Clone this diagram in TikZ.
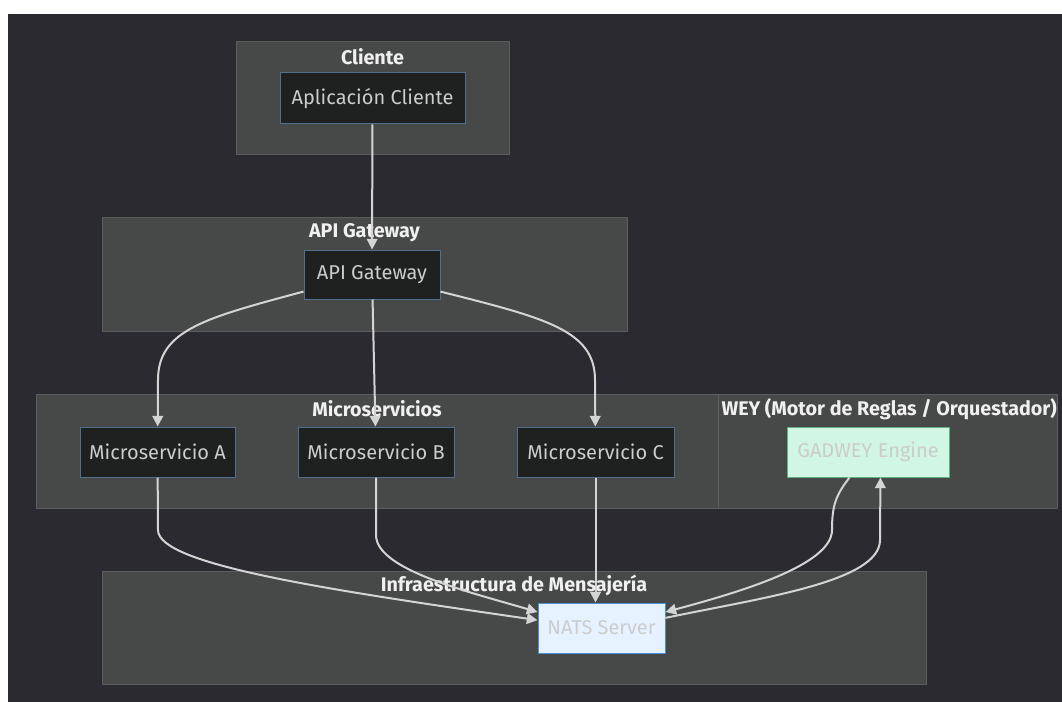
\documentclass[tikz,border=0pt]{standalone}
\usepackage{fontspec}
\setmainfont{Fira Sans}
\usetikzlibrary{arrows.meta}

\definecolor{bgdark}{RGB}{43,42,48}
\definecolor{clfill}{RGB}{71,73,72}
\definecolor{clline}{RGB}{92,94,93}
\definecolor{ndfill}{RGB}{31,32,32}
\definecolor{ndline}{RGB}{82,112,140}
\definecolor{ndtext}{RGB}{204,204,204}
\definecolor{edgegray}{RGB}{212,212,212}
\definecolor{natsfill}{RGB}{230,242,255}
\definecolor{natsline}{RGB}{74,144,217}
\definecolor{engfill}{RGB}{210,246,228}
\definecolor{engline}{RGB}{96,176,128}

\tikzset{
  cluster/.style={fill=clfill, draw=clline, line width=0.75pt},
  ctitle/.style={text=white!94!black, font=\bfseries\fontsize{14.8}{16}\selectfont, inner sep=0pt},
  svc/.style={fill=ndfill, draw=ndline, line width=0.75pt, text=ndtext,
    font=\fontsize{15}{17}\selectfont, minimum height=37.5pt, inner sep=0pt},
  wd/.style={minimum width=#1*0.75pt},
  flow/.style={draw=edgegray, line width=1.5pt, -{Triangle[length=8pt,width=8pt]}},
}

\begin{document}
\begin{tikzpicture}[x=0.75pt,y=-0.75pt,join=round] % Architecture overview
       \fill[white](0,0) rectangle (1062,702);
       \fill[bgdark](8,14) rectangle (1062,702);
       \useasboundingbox (0,0) rectangle (1062,702);
       % groups
       \filldraw[cluster](236,42) rectangle (509,155);
       \filldraw[cluster](102,218) rectangle (627,331);
       \filldraw[cluster](678,394) rectangle (1057,508);
       \filldraw[cluster](36,394) rectangle (718,508);
       \filldraw[cluster](102,571) rectangle (926,684);
       \node[ctitle] (tcli) at (372.5,57) {Cliente};
       \node[ctitle] (tgw) at (364.5,233) {API Gateway};
       \node[ctitle] (tms) at (377,409) {Microservicios};
       \node[ctitle, anchor=east] (tgad) at (1057,409) {WEY (Motor de Reglas / Orquestador)};
       \node[ctitle] (tinf) at (514,585) {Infraestructura de Mensajería};
       % services
       \node[svc, wd=185, minimum height=38.25pt] (app) at (372.5,98.5) {Aplicación Cliente};
       \node[svc, wd=136, minimum height=36.75pt] (gw) at (372,274.5) {API Gateway};
       \node[svc, wd=155] (msA) at (157.5,452) {Microservicio A};
       \node[svc, wd=156] (msB) at (376,452) {Microservicio B};
       \node[svc, wd=157] (msC) at (595.5,452) {Microservicio C};
       \node[svc, wd=162, fill=engfill, draw=engline] (engine) at (868,452) {GADWEY Engine};
       \node[svc, wd=127, fill=natsfill, draw=natsline] (nats) at (601.5,628) {NATS Server};
       % connections
       \draw[flow](app) -- (gw);
       \draw[flow](gw.194) .. controls (205,318) and (158,330) .. (158,380) -- (msA);
       \draw[flow](gw) -- (msB);
       \draw[flow](gw.-14) .. controls (545,318) and (595,330) .. (595,380) -- (msC);
       \draw[flow](msA) -- (158,530) .. controls (158,565) and (330,590) .. (nats.173);
       \draw[flow](msB) -- (376,535) .. controls (376,570) and (470,592) .. (nats.166);
       \draw[flow](msC) -- (msC.south |- nats.north);
       \draw[flow](engine.234) .. controls (836,495) and (832,505) .. (832,530) .. controls (832,565) and (740,592) .. (nats.14);
       \draw[flow](nats.9) .. controls (760,598) and (880,582) .. (880,540) -- (engine.296);
\end{tikzpicture}
\end{document}
